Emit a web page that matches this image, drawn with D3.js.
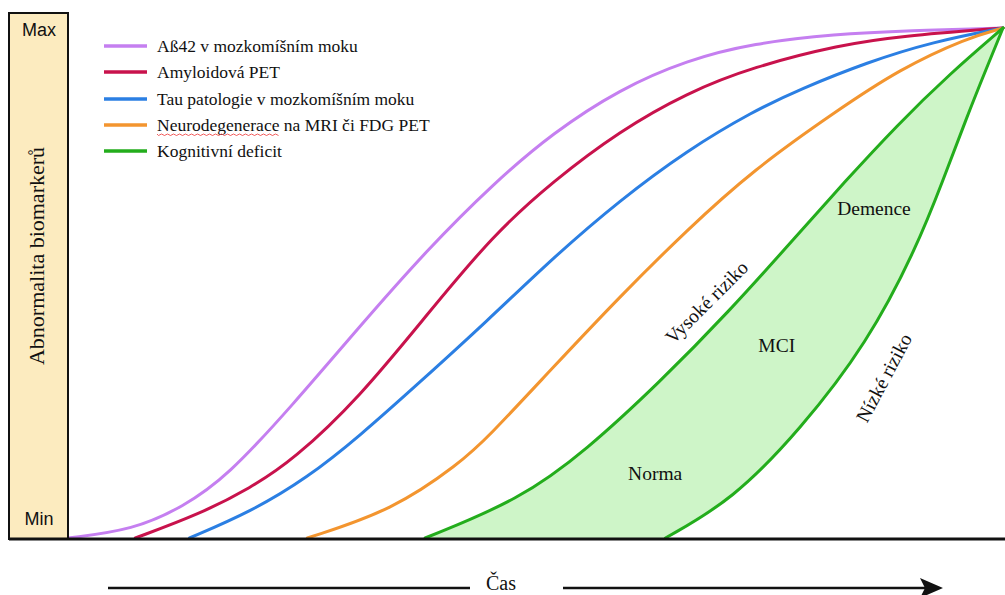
<!DOCTYPE html>
<html><head><meta charset="utf-8">
<script src="https://cdn.jsdelivr.net/npm/d3@7"></script>
<style>html,body{margin:0;padding:0;background:#fff;} svg{display:block;}</style>
</head><body>
<svg id="chart" width="1005" height="595"></svg>
<script>
// ---- data (time 0..100, abnormality 0..100) ----
const seriesLabels = ["Aß42 v mozkomíšním moku", "Amyloidová PET", "Tau patologie v mozkomíšním moku", "Neurodegenerace na MRI či FDG PET", "Kognitivní deficit"];
const abeta42 = [[0,0],[7,1.6],[12.3,6.1],[17,12],[24,26],[31.2,41.5],[38.4,56.5],[45.5,69.5],[51.9,79.5],[59,88],[66.2,93.7],[73.3,97],[82,98.8],[90,99.5],[100,100]];
const amyloidPet = [[7.2,0],[14.1,4.7],[19.5,9.8],[24.1,15.3],[31.2,27.6],[38.4,43.8],[45.5,59.5],[51.9,70],[59,79.8],[66.2,87.3],[73.3,92.4],[82.6,96.7],[89,98.4],[100,100]];
const tauCsf = [[13,0],[19.5,5.1],[25.6,11.8],[31.2,20],[37.6,30.5],[44.8,42.5],[51.9,55],[59,66.2],[66.2,76],[73.3,83.7],[78.3,88],[85.5,93.3],[92.5,97.3],[100,100]];
const neurodegen = [[25.6,0],[34.8,5.5],[41.9,14.7],[44.8,19.5],[51.9,33.5],[59,47.3],[66.2,60.4],[73.3,72.2],[82,83.5],[89,92],[96.1,98],[100,100]];
const cognitiveHigh = [[38.2,0],[48.3,7.5],[55.5,17.3],[63.3,30.6],[70.5,44],[78.3,60],[82.9,69.5],[88.7,81],[94.3,91],[100,100]];
const cognitiveLow = [[63.9,0],[71.1,7.5],[78.3,21.2],[85.5,38.2],[90.8,57.1],[93.6,70.2],[96.1,82.4],[98.3,92.4],[100,100]];
const yTickValues = [0, 100];
const yTickLabels = ["Min", "Max"];
const stageLabels = ["Norma", "MCI", "Demence"];
const stagePos = [[62.8,11.4],[75.8,36.5],[86.2,63.3]];
const riskLabels = ["Vysoké riziko", "Nízké riziko"];
const riskPos = [[68.8,45.3],[87.9,30.8]];
const riskAngle = [-45, -62];
const axisTitle = "Abnormalita biomarkerů";
const timeTitle = "Čas";

// ---- styles ----
const colors = ["#c57ff0", "#c8124c", "#2b7fe3", "#f3952f", "#23ad1c"];
const greenFill = "#cef5c8";
const SERIF = "'Liberation Serif'";
const SANS = "'Liberation Sans'";

const svg = d3.select("#chart");
const x = d3.scaleLinear().domain([0,100]).range([68,1003]);
const y = d3.scaleLinear().domain([0,100]).range([538,28]);
const line = d3.line().x(d=>x(d[0])).y(d=>y(d[1])).curve(d3.curveBasis);

// green band
const lowRev = cognitiveLow.slice().reverse();
const bandPath = line(cognitiveHigh) + line(lowRev).replace(/^M/, "L") + "Z";
svg.append("path").attr("d", bandPath).attr("fill", greenFill).attr("stroke", "none");

const allSeries = [abeta42, amyloidPet, tauCsf, neurodegen, cognitiveHigh];
allSeries.forEach((s,i)=>{
  svg.append("path").attr("d", line(s)).attr("fill","none").attr("stroke", colors[i]).attr("stroke-width",3).attr("stroke-linecap","round");
});
svg.append("path").attr("d", line(cognitiveLow)).attr("fill","none").attr("stroke", colors[4]).attr("stroke-width",3).attr("stroke-linecap","round");

// left box
svg.append("rect").attr("x",9).attr("y",13).attr("width",59).attr("height",526)
  .attr("fill","#fcebbf").attr("stroke","#111").attr("stroke-width",2);
// baseline
svg.append("line").attr("x1",9).attr("x2",1005).attr("y1",539).attr("y2",539).attr("stroke","#111").attr("stroke-width",3);

// Min / Max
const tickOff = [-13, 8];
yTickValues.forEach((v,i)=>{
  svg.append("text").style("font-family",SANS).style("font-size","18px").attr("x",39).attr("y", y(v)+tickOff[i]).attr("text-anchor","middle")
    .attr("fill","#111").text(yTickLabels[i]);
});
svg.append("text").style("font-family",SERIF).style("font-size","22px").attr("transform","translate(44,256) rotate(-90)").attr("text-anchor","middle")
  .attr("fill","#111").text(axisTitle);

// legend
const legY = [46,72,99,125,151];
seriesLabels.forEach((lab,i)=>{
  svg.append("line").attr("x1",104).attr("x2",147).attr("y1",legY[i]).attr("y2",legY[i]).attr("stroke",colors[i]).attr("stroke-width",3.5);
  const t = svg.append("text").style("font-family",SERIF).style("font-size","17.5px").attr("x",157).attr("y",legY[i]+6)
    .attr("fill","#111");
  if (i===3) {
    const w = "Neurodegenerace";
    const ts = t.append("tspan").text(w);
    t.append("tspan").text(lab.slice(w.length));
    const len = ts.node().getComputedTextLength();
    let d = "M157," + (legY[i]+9);
    for (let k=0; k*3<len; k++) d += " L" + (157+k*3+1.5) + "," + (legY[i]+ (k%2?9:10.5));
    svg.append("path").attr("d", d).attr("fill","none").attr("stroke","#e33").attr("stroke-width",0.8);
  } else t.text(lab);
});

// stage labels
stageLabels.forEach((lab,i)=>{
  svg.append("text").style("font-family",SERIF).style("font-size","19.5px").attr("x",x(stagePos[i][0])).attr("y",y(stagePos[i][1])).attr("text-anchor","middle")
    .attr("fill","#111").text(lab);
});
riskLabels.forEach((lab,i)=>{
  svg.append("text").style("font-family",SERIF).style("font-size","19.5px").attr("transform",`translate(${x(riskPos[i][0])},${y(riskPos[i][1])}) rotate(${riskAngle[i]})`).attr("text-anchor","middle")
    .attr("fill","#111").text(lab);
});

// time arrow
svg.append("line").attr("x1",108).attr("x2",470).attr("y1",588).attr("y2",588).attr("stroke","#111").attr("stroke-width",2.5);
svg.append("line").attr("x1",563).attr("x2",925).attr("y1",588).attr("y2",588).attr("stroke","#111").attr("stroke-width",2.5);
svg.append("path").attr("d","M943,588 L920,578 L925,588 L920,598 Z").attr("fill","#111");
svg.append("text").style("font-family",SERIF).style("font-size","20px").attr("x",501).attr("y",590).attr("text-anchor","middle")
  .attr("fill","#111").text(timeTitle);
</script>
</body></html>
